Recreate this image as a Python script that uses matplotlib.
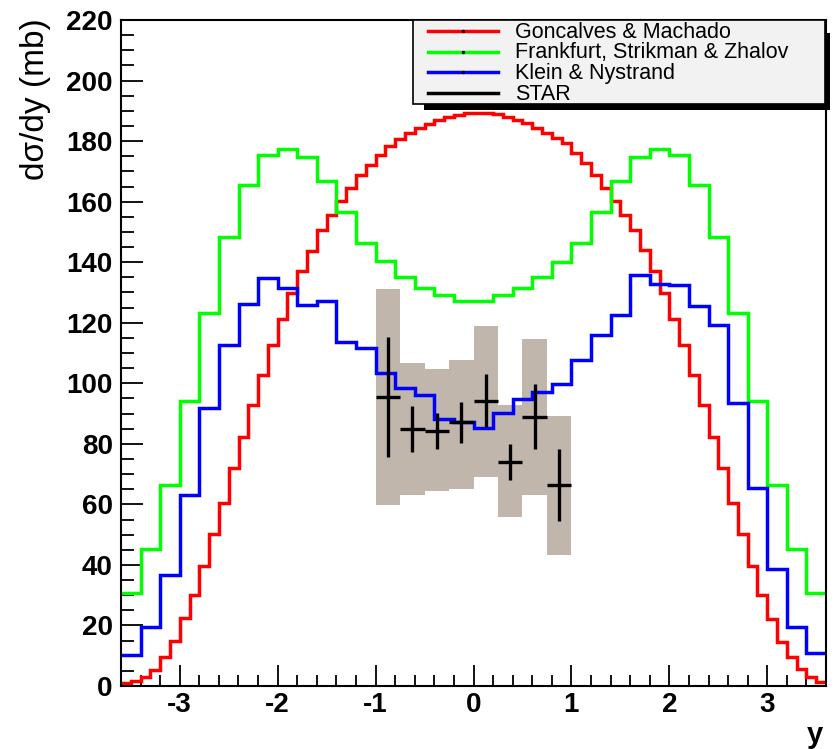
import numpy as np
import matplotlib
matplotlib.use("Agg")
import matplotlib.pyplot as plt
from matplotlib.patches import Rectangle
from matplotlib.lines import Line2D
from matplotlib.ticker import MultipleLocator

plt.rcParams['font.family'] = ['Liberation Sans', 'DejaVu Sans']
plt.rcParams['axes.unicode_minus'] = False

# model predictions, dsigma/dy in mb
# Goncalves & Machado: 72 bins of 0.1 from -3.6 to 3.6
gm_edges = np.round(np.arange(-3.6, 3.6001, 0.1), 2)
gm_vals = [0.9, 1.7, 3.1, 5.3, 9.7, 14.9, 22.4, 30.0, 39.8, 50.2,
           60.4, 71.9, 82.2, 92.8, 102.8, 112.6, 121.1, 129.9, 137.1, 143.8,
           150.6, 155.6, 160.2, 164.6, 168.8, 172.1, 175.4, 178.4, 180.6, 182.6,
           184.3, 185.8, 187.0, 188.0, 188.7, 189.2, 189.4, 189.2, 188.8, 188.1,
           187.1, 185.9, 184.4, 182.7, 181.0, 179.5, 176.0, 172.7, 168.8, 164.6,
           160.2, 155.6, 150.6, 144.0, 137.2, 129.7, 121.1, 112.7, 102.7, 92.8,
           82.2, 71.9, 60.4, 50.2, 39.7, 30.0, 22.0, 14.6, 9.7, 5.5,
           3.1, 1.4]

# Frankfurt, Strikman & Zhalov and Klein & Nystrand: 36 bins of 0.2
wide_edges = np.round(np.arange(-3.6, 3.6001, 0.2), 2)
fsz_vals = [30.6, 45.2, 66.4, 94.3, 123.3, 148.2, 165.5, 175.4, 177.4, 174.9,
            166.8, 156.5, 146.2, 140.4, 135.2, 131.4, 129.2, 127.3, 127.3, 129.2,
            131.4, 135.2, 140.2, 146.2, 156.5, 166.8, 174.9, 177.4, 175.4, 165.5,
            148.2, 123.3, 94.3, 66.4, 45.2, 30.6]
kn_vals = [10.2, 19.6, 36.7, 63.1, 91.7, 112.6, 126.2, 134.7, 131.4, 125.9,
           127.2, 113.5, 111.6, 103.3, 98.3, 96.1, 88.1, 87.3, 85.3, 90.1,
           94.8, 97.2, 99.8, 107.7, 116.0, 122.6, 135.8, 132.8, 132.5, 125.5,
           119.3, 93.6, 65.3, 38.5, 19.6, 10.8]

# STAR measurement
star_y = [-0.875, -0.625, -0.375, -0.125, 0.125, 0.375, 0.625, 0.875]
star_val = [95.4, 84.9, 84.2, 87.1, 94.3, 74.1, 89.0, 66.4]
star_stat = [19.8, 7.5, 5.9, 6.8, 8.7, 6.0, 10.8, 11.8]
star_sys_lo = [59.8, 63.1, 64.4, 65.0, 68.9, 55.7, 63.1, 43.3]
star_sys_hi = [131.0, 106.6, 104.6, 107.7, 119.0, 92.8, 114.5, 89.2]
star_bin = 0.25

labels = ["Goncalves & Machado", "Frankfurt, Strikman & Zhalov",
          "Klein & Nystrand", "STAR"]
colors = ["#ff0000", "#00ff00", "#0000ff", "#000000"]

W, H = 834, 749
fig = plt.figure(figsize=(W / 100, H / 100), dpi=100)
ax = fig.add_axes([121 / W, 1 - 686 / H, 705 / W, 666 / H])

# systematic boxes
ax.bar(star_y, np.array(star_sys_hi) - np.array(star_sys_lo), bottom=star_sys_lo,
       width=star_bin, color="#c1b6ab", linewidth=0, zorder=1)

for edges, vals, c in [(gm_edges, gm_vals, colors[0]),
                       (wide_edges, fsz_vals, colors[1]),
                       (wide_edges, kn_vals, colors[2])]:
    ax.stairs(vals, edges, baseline=None, color=c, lw=2.5, zorder=2)

ax.errorbar(star_y, star_val, xerr=star_bin / 2, yerr=star_stat, fmt="none",
            ecolor="k", elinewidth=2.4, capsize=0, zorder=3)

ax.set_xlim(-3.6, 3.6)
ax.set_ylim(0, 220)
ax.xaxis.set_major_locator(MultipleLocator(1))
ax.xaxis.set_minor_locator(MultipleLocator(0.2))
ax.yaxis.set_major_locator(MultipleLocator(20))
ax.yaxis.set_minor_locator(MultipleLocator(5))
ax.tick_params(which="both", direction="in", top=False, right=False)
ax.tick_params(axis="y", which="major", length=16, width=1.3, pad=6)
ax.tick_params(axis="y", which="minor", length=9.5, width=1.3)
ax.tick_params(axis="x", which="major", length=15, width=1.3, pad=4)
ax.tick_params(axis="x", which="minor", length=8, width=1.3)
for lab in ax.get_xticklabels() + ax.get_yticklabels():
    lab.set_fontsize(20)
    lab.set_fontweight("bold")
for sp in ax.spines.values():
    sp.set_linewidth(1.5)

ax.set_ylabel("dσ/dy (mb)", fontsize=24, loc="top")
ax.yaxis.set_label_coords((51 - 121) / 705, (686 - 18) / 666)
ax.set_xlabel("y", fontsize=21, fontweight="bold", loc="right")
ax.xaxis.set_label_coords((823 - 121) / 705, (686 - 721) / 666)


def fx(px):
    return px / W


def fy(py):
    return 1 - py / H


# legend box drawn in pixel positions, with ROOT-like shadow
fig.add_artist(Rectangle((fx(825), fy(110)), fx(5), fy(33) - fy(110),
                         transform=fig.transFigure, facecolor="k", edgecolor="none"))
fig.add_artist(Rectangle((fx(424), fy(110)), fx(406), fy(104) - fy(110),
                         transform=fig.transFigure, facecolor="k", edgecolor="none"))
fig.add_artist(Rectangle((fx(413), fy(104)), fx(412), fy(20) - fy(104),
                         transform=fig.transFigure, facecolor="#f2f2f2",
                         edgecolor="k", linewidth=1.2))
for i, (lab, c) in enumerate(zip(labels, colors)):
    ly = 31 + i * 20.7
    fig.add_artist(Line2D([fx(428), fx(498)], [fy(ly), fy(ly)], color=c, lw=2.5,
                          transform=fig.transFigure))
    if i < 3:
        fig.add_artist(Line2D([fx(463)], [fy(ly)], marker="o", ms=1.5, color="k",
                              lw=0, transform=fig.transFigure))
    fig.text(fx(515), fy(ly + 1), lab, fontsize=15.5, va="center", ha="left")

fig.savefig("out.png", dpi=100)
